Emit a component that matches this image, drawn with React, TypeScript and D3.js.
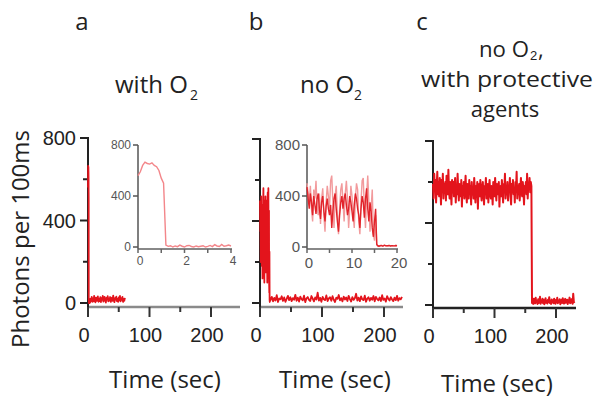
import React from "react";
import * as d3 from "d3";

// ---------- DATA ----------
const yTicks = [0, 200, 400, 600, 800];
const yLabels = [0, 400, 800];
const xTicksMain = [0, 50, 100, 150, 200];
const xLabelsMain = [0, 100, 200];
const insetATicks = [0, 1, 2, 3, 4];
const insetALabels = [0, 2, 4];
const insetBTicks = [0, 5, 10, 15, 20];
const insetBLabels = [0, 10, 20];

// Panel a, inset: 0..4 s every 0.1 s
const insetA = [
  560, 590, 640, 665, 655, 650, 660, 640, 630, 600, 540, 500, 15, 5, 10, 0, 8, 3, 15, 6,
  0, 10, 12, 4, 0, 8, 2, 6, 10, 0, 5, 12, 3, 18, 8, 4, 20, 6, 10, 15, 8,
];
// Panel a, tail: 5..60 s every 1 s
const tailA = [
  12, 30, 5, 22, 8, 35, 14, 3, 26, 10, 18, 32, 6, 20, 9, 28, 4, 24, 15, 34, 7, 19, 30, 11,
  2, 25, 16, 33, 8, 21, 12, 29, 5, 18, 26, 10, 36, 14, 4, 23, 17, 31, 9, 20, 6, 27, 13, 34,
  8, 22, 15, 30, 5, 19, 11, 25,
];

// Panel b, inset: 0..16 s every 0.25 s (two traces)
const redB = [
  470, 380, 300, 420, 350, 250, 400, 330, 260, 380, 420, 300, 220, 350, 400, 280, 200, 320,
  380, 300, 250, 330, 150, 280, 380, 420, 300, 200, 120, 250, 350, 400, 300, 380, 420, 330,
  250, 300, 400, 350, 280, 200, 330, 420, 380, 300, 250, 150, 300, 400, 350, 230, 380, 460,
  300, 200, 350, 280, 150, 80, 200, 300, 20, 10, 5,
];
const pinkB = [
  500, 420, 350, 480, 300, 200, 450, 380, 520, 300, 250, 420, 180, 380, 460, 250, 120, 350,
  480, 400, 300, 520, 560, 350, 150, 400, 480, 250, 100, 300, 450, 500, 350, 200, 420, 520,
  380, 150, 300, 480, 400, 250, 150, 380, 500, 450, 200, 100, 350, 520, 540, 300, 150, 400,
  560, 350, 120, 300, 450, 100, 50, 250, 15, 5, 10,
];
// Panel b inset tail: 16.25..20 s every 0.25 s
const insetBTail = [10, 12, 8, 10, 14, 9, 11, 10, 12, 8, 10, 11, 9, 10, 12, 10];
// Panel b main tail: 17..229 s every 2 s
const tailB = [
  15, 30, 8, 25, 12, 38, 5, 22, 18, 33, 10, 27, 6, 20, 35, 14, 28, 9, 24, 16, 40, 11, 26, 7,
  31, 19, 13, 36, 4, 23, 29, 15, 10, 34, 21, 8, 27, 17, 50, 12, 25, 6, 30, 18, 14, 37, 9,
  22, 28, 11, 33, 16, 5, 26, 20, 39, 13, 24, 8, 31, 17, 27, 10, 35, 19, 7, 29, 15, 23, 45,
  12, 26, 9, 32, 18, 14, 36, 6, 21, 28, 11, 25, 16, 34, 8, 30, 19, 13, 27, 10, 38, 15, 22,
  7, 33, 20, 12, 29, 17, 9, 26, 14, 35, 11, 24, 18, 30,
];

// Panel c: on-state 0..160 s every 1 s, then off-state 161..230 s
const cOn = [
  590, 520, 640, 560, 610, 500, 580, 650, 540, 600, 530, 620, 570, 490, 610, 560, 640, 520,
  590, 550, 600, 510, 630, 570, 540, 660, 560, 520, 600, 580, 490, 610, 550, 600, 530, 580,
  620, 500, 570, 540, 640, 560, 510, 590, 570, 530, 610, 480, 580, 550, 600, 520, 570, 630,
  540, 500, 590, 560, 520, 610, 550, 580, 490, 600, 540, 570, 520, 620, 560, 500, 580, 540,
  600, 470, 560, 590, 530, 610, 550, 510, 570, 600, 540, 490, 580, 560, 620, 520, 550, 590,
  500, 570, 610, 540, 520, 580, 560, 490, 600, 550, 530, 620, 560, 510, 590, 540, 570, 600,
  480, 560, 580, 530, 610, 550, 500, 590, 560, 640, 520, 570, 540, 600, 510, 580, 560, 620,
  530, 490, 590, 550, 610, 540, 570, 500, 600, 560, 650, 520, 580, 540, 590, 510, 570, 620,
  550, 530, 600, 560, 490, 580, 560, 600, 540, 640, 520, 590, 570, 620, 550, 600, 580,
];
const cOff = [
  10, 25, 5, 30, 15, 8, 35, 12, 20, 5, 28, 10, 18, 40, 6, 22, 14, 30, 9, 25, 4, 16, 33, 11,
  20, 7, 26, 15, 38, 10, 19, 5, 27, 13, 22, 8, 31, 16, 6, 24, 12, 35, 9, 20, 15, 28, 4, 18,
  25, 10, 33, 14, 7, 21, 30, 11, 17, 26, 5, 23, 13, 36, 9, 19, 28, 12, 6, 55, 15, 10,
];

// ---------- helpers ----------
type P = [number, number];
const seq = (vals: number[], t0: number, step: number): P[] =>
  vals.map((v, i) => [t0 + i * step, v]);

const RED = "#e3141c";
const PINK = "#f3868a";
const TICKFONT = "'Liberation Sans', Arial, sans-serif";
const TEXTFONT = "'Open Sans', 'Noto Sans', sans-serif";

function MainPanel({
  xr, yr, axisY, xEnd, xAxisColor, yAxisColor, showYLabels, data, yTop, sw,
}: {
  xr: [number, number]; yr: [number, number]; axisY: number; xEnd: number;
  xAxisColor: string; yAxisColor: string; showYLabels: boolean; data: P[][]; yTop: number; sw: number;
}) {
  const x = d3.scaleLinear().domain([0, 200]).range(xr);
  const y = d3.scaleLinear().domain([0, 800]).range(yr);
  const line = d3.line<P>().x((d) => x(d[0])).y((d) => y(d[1]));
  const x0 = x(0);
  return (
    <g>
      <line x1={x0} x2={xEnd} y1={axisY} y2={axisY} stroke={xAxisColor} strokeWidth={2.5} />
      <line x1={x0} x2={x0} y1={yTop} y2={axisY} stroke={yAxisColor} strokeWidth={2} />
      {yTicks.map((t) => (
        <line key={t} x1={x0 - (yLabels.includes(t) ? 8 : 5)} x2={x0} y1={y(t)} y2={y(t)}
          stroke={yAxisColor} strokeWidth={2} />
      ))}
      {xTicksMain.map((t) => (
        <line key={t} x1={x(t)} x2={x(t)} y1={axisY} y2={axisY + (xLabelsMain.includes(t) ? 10 : 5)}
          stroke="#333" strokeWidth={2} />
      ))}
      {data.map((s, i) => (
        <path key={i} d={line(s) || ""} fill="none" stroke={RED} strokeWidth={sw}
          strokeLinejoin="round" />
      ))}
      {showYLabels &&
        yLabels.map((t) => (
          <text key={t} x={x0 - 12} y={y(t)} dy="0.36em" textAnchor="end" fontSize={20}
            fontFamily={TICKFONT} fill="#222">{t}</text>
        ))}
      {xLabelsMain.map((t) => (
        <text key={t} x={x(t) - 4} y={axisY + 35} textAnchor="middle" fontSize={20}
          fontFamily={TICKFONT} fill="#222">{t}</text>
      ))}
    </g>
  );
}

function Inset({
  xd, xr, yr, axisY, ticks, labels, fs, data, colors,
}: {
  xd: [number, number]; xr: [number, number]; yr: [number, number]; axisY: number;
  ticks: number[]; labels: number[]; fs: number; data: P[][]; colors: string[];
}) {
  const x = d3.scaleLinear().domain(xd).range(xr);
  const y = d3.scaleLinear().domain([0, 800]).range(yr);
  const line = d3.line<P>().x((d) => x(d[0])).y((d) => y(d[1]));
  const x0 = x(xd[0]);
  return (
    <g>
      <line x1={x0} x2={x(xd[1]) + 1} y1={axisY} y2={axisY} stroke="#888" strokeWidth={2} />
      <line x1={x0} x2={x0} y1={y(800)} y2={axisY} stroke="#555" strokeWidth={1.5} />
      {[0, 400, 800].map((t) => (
        <g key={t}>
          <line x1={x0 - 5} x2={x0} y1={y(t)} y2={y(t)} stroke="#555" strokeWidth={1.5} />
          <text x={x0 - 7} y={y(t)} dy="0.36em" textAnchor="end" fontSize={fs}
            fontFamily={TICKFONT} fill="#555">{t}</text>
        </g>
      ))}
      {ticks.map((t) => (
        <line key={t} x1={x(t)} x2={x(t)} y1={axisY} y2={axisY + 4} stroke="#666" strokeWidth={1.5} />
      ))}
      {data.map((s, i) => (
        <path key={i} d={line(s) || ""} fill="none" stroke={colors[i]} strokeWidth={1.4} />
      ))}
      {labels.map((t) => (
        <text key={t} x={x(t) + 2} y={axisY + 4 + fs} textAnchor="middle" fontSize={fs}
          fontFamily={TICKFONT} fill="#555">{t}</text>
      ))}
    </g>
  );
}

export default function App() {
  const mainA: P[] = [...seq(insetA, 0, 0.1), ...seq(tailA, 5, 1)];
  const mainB: P[] = [...seq(pinkB, 0, 0.25), ...seq(tailB, 17, 2)];
  const mainC: P[] = [...seq(cOn, 0, 1), ...seq(cOff, 161, 1)];
  const insA: P[] = seq(insetA, 0, 0.1);
  const insBpink: P[] = [...seq(pinkB, 0, 0.25), ...seq(insetBTail, 16.25, 0.25)];
  const insBred: P[] = [...seq(redB, 0, 0.25), ...seq(insetBTail, 16.25, 0.25)];

  return (
    <svg width={601} height={404} style={{ position: "absolute", left: 0, top: 0 }}>
      <rect width={601} height={404} fill="#fff" />
      {/* panel letters */}
      {[["a", 82], ["b", 256], ["c", 422]].map(([l, xx]) => (
        <text key={l as string} x={xx as number} y={30} textAnchor="middle" fontSize={24}
          fontFamily={TEXTFONT} fill="#222">{l}</text>
      ))}
      {/* titles */}
      <text x={115} y={93} fontSize={24} fontFamily={TEXTFONT} fill="#222">with O</text>
      <text x={190} y={100} fontSize={14} fontFamily={TEXTFONT} fill="#222">2</text>
      <text x={300} y={93} fontSize={24} fontFamily={TEXTFONT} fill="#222">no O</text>
      <text x={354} y={100} fontSize={14} fontFamily={TEXTFONT} fill="#222">2</text>

      <text x={479} y={57} fontSize={22} fontFamily={TEXTFONT} fill="#222"
        textLength={50} lengthAdjust="spacingAndGlyphs">no O</text>
      <text x={530} y={60} fontSize={13} fontFamily={TICKFONT} fill="#222">2</text>
      <text x={538} y={57} fontSize={22} fontFamily={TEXTFONT} fill="#222">,</text>
      <text x={507} y={87} textAnchor="middle" fontSize={22} fontFamily={TEXTFONT} fill="#222"
        textLength={172} lengthAdjust="spacingAndGlyphs">with protective</text>
      <text x={505} y={117} textAnchor="middle" fontSize={22} fontFamily={TEXTFONT} fill="#222">
        agents
      </text>

      {/* y label */}
      <text transform="translate(29,239) rotate(-90)" textAnchor="middle" fontSize={24}
        fontFamily={TEXTFONT} fill="#222">Photons per 100ms</text>

      <MainPanel xr={[88, 211]} yr={[303, 138]} axisY={307} xEnd={240} xAxisColor="#8a8a8a"
        yAxisColor="#222" showYLabels={true} data={[mainA]} yTop={137} sw={1.8} />
      <MainPanel xr={[260, 384]} yr={[303, 139]} axisY={307} xEnd={403} xAxisColor="#8a8a8a"
        yAxisColor="#222" showYLabels={false} data={[mainB]} yTop={138} sw={1.8} />
      <MainPanel xr={[433, 556]} yr={[305, 141]} axisY={308} xEnd={576} xAxisColor="#222"
        yAxisColor="#222" showYLabels={false} data={[mainC]} yTop={140} sw={2} />

      <Inset xd={[0, 4]} xr={[138, 231]} yr={[247, 145]} axisY={249} ticks={insetATicks}
        labels={insetALabels} fs={12} data={[insA]} colors={[PINK]} />
      <Inset xd={[0, 20]} xr={[307, 397]} yr={[247, 145]} axisY={249} ticks={insetBTicks}
        labels={insetBLabels} fs={15} data={[insBpink, insBred]} colors={["#f29a9c", "#e2242b"]} />

      {/* x labels */}
      {[[165, 388], [335, 388], [497, 392]].map(([cx, cy], i) => (
        <text key={i} x={cx} y={cy} textAnchor="middle" fontSize={24} fontFamily={TEXTFONT}
          fill="#222">Time (sec)</text>
      ))}
    </svg>
  );
}
